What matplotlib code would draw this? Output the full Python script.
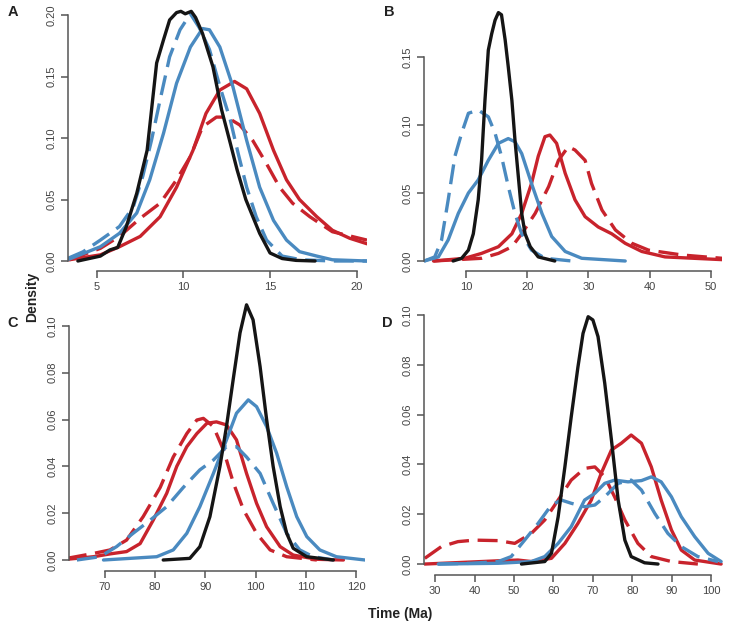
import matplotlib
matplotlib.use("Agg")
import matplotlib.pyplot as plt

plt.rcParams['font.family'] = ['Liberation Sans', 'DejaVu Sans']

RED = "#c8232c"
BLUE = "#4a8ac0"
BLACK = "#151515"

# ---- panel A ----
a_black_x = [3.9, 5.2, 5.75, 6.2, 6.7, 7.3, 7.9, 8.45, 8.85, 9.2, 9.6, 9.85, 10.1, 10.45, 10.7, 11.1, 11.7, 12.2, 12.7, 13.1, 13.6, 14.4, 15.0, 15.7, 16.5, 17.6]
a_black_y = [0.0, 0.004, 0.009, 0.011, 0.028, 0.055, 0.090, 0.161, 0.180, 0.196, 0.202, 0.203, 0.201, 0.203, 0.198, 0.185, 0.158, 0.123, 0.096, 0.074, 0.050, 0.0225, 0.0065, 0.002, 0.0005, 0.0]
a_bdash_x = [3.3, 4.2, 5.2, 6.3, 7.1, 7.65, 8.15, 8.65, 9.2, 9.8, 10.4, 10.9, 11.5, 12.1, 12.7, 13.15, 13.65, 14.2, 14.8, 15.7, 16.8, 18.6, 20.6]
a_bdash_y = [0.002, 0.0075, 0.017, 0.028, 0.044, 0.069, 0.098, 0.131, 0.166, 0.188, 0.201, 0.190, 0.172, 0.142, 0.115, 0.088, 0.060, 0.036, 0.017, 0.004, 0.001, 0.0, 0.0]
a_bsol_x = [3.3, 5.2, 6.3, 7.3, 8.05, 8.85, 9.6, 10.4, 11.1, 11.5, 12.1, 12.85, 13.65, 14.4, 15.2, 15.95, 16.7, 17.7, 18.6, 20.6]
a_bsol_y = [0.001, 0.0116, 0.0225, 0.039, 0.066, 0.104, 0.1445, 0.174, 0.189, 0.188, 0.174, 0.142, 0.098, 0.060, 0.033, 0.017, 0.0076, 0.004, 0.001, 0.0]
a_rsol_x = [3.4, 5.2, 6.3, 7.5, 8.65, 9.6, 10.55, 11.3, 12.1, 12.95, 13.65, 14.4, 15.2, 15.95, 16.7, 17.7, 18.6, 19.6, 20.6]
a_rsol_y = [0.001, 0.005, 0.0116, 0.020, 0.036, 0.060, 0.090, 0.120, 0.139, 0.146, 0.140, 0.120, 0.090, 0.066, 0.050, 0.036, 0.025, 0.0185, 0.014]
a_rdash_x = [3.4, 5.2, 6.3, 7.5, 8.65, 9.6, 10.4, 11.1, 11.9, 12.5, 13.25, 14.0, 14.8, 15.55, 16.3, 17.3, 18.6, 20.6]
a_rdash_y = [0.001, 0.0103, 0.020, 0.0347, 0.047, 0.066, 0.085, 0.109, 0.117, 0.117, 0.1106, 0.098, 0.079, 0.060, 0.047, 0.036, 0.0238, 0.017]

# ---- panel B ----
b_black_x = [7.9, 9.3, 10.4, 11.2, 12.0, 12.55, 13.1, 13.65, 14.2, 14.75, 15.3, 15.8, 16.4, 16.9, 17.5, 18.0, 18.6, 19.1, 19.65, 20.5, 21.8, 24.5]
b_black_y = [0.0, 0.002, 0.008, 0.020, 0.045, 0.074, 0.118, 0.155, 0.167, 0.177, 0.1826, 0.181, 0.1625, 0.143, 0.118, 0.089, 0.0596, 0.035, 0.020, 0.0105, 0.003, 0.0]
b_bdash_x = [3.2, 4.9, 6.0, 7.1, 8.2, 9.3, 10.4, 12.0, 13.65, 14.75, 15.8, 16.9, 18.0, 19.1, 20.7, 22.9, 27.3]
b_bdash_y = [0.0, 0.003, 0.015, 0.045, 0.077, 0.094, 0.1086, 0.111, 0.106, 0.094, 0.077, 0.055, 0.035, 0.020, 0.008, 0.002, 0.0]
b_bsol_x = [3.2, 5.5, 7.1, 8.75, 10.4, 12.0, 13.65, 15.3, 16.9, 18.0, 19.1, 20.7, 22.4, 24.0, 26.2, 28.9, 36.0]
b_bsol_y = [0.0, 0.003, 0.0155, 0.035, 0.050, 0.0596, 0.074, 0.0865, 0.090, 0.0877, 0.079, 0.057, 0.035, 0.018, 0.007, 0.002, 0.0]
b_rsol_x = [4.7, 9.8, 12.55, 15.3, 17.5, 19.1, 20.7, 21.8, 22.9, 23.7, 24.8, 26.2, 27.8, 29.45, 31.6, 33.8, 36.0, 38.7, 42.5, 51.8]
b_rsol_y = [0.0, 0.002, 0.0056, 0.0105, 0.020, 0.035, 0.057, 0.077, 0.0914, 0.0926, 0.0865, 0.0645, 0.045, 0.0326, 0.025, 0.020, 0.013, 0.007, 0.003, 0.001]
b_rdash_x = [4.7, 12.55, 15.3, 17.5, 19.1, 21.3, 23.5, 25.1, 26.7, 27.8, 29.45, 30.5, 32.2, 34.4, 37.1, 39.8, 45.3, 51.8]
b_rdash_y = [0.0, 0.002, 0.0056, 0.0105, 0.020, 0.035, 0.0547, 0.074, 0.084, 0.0816, 0.074, 0.057, 0.0375, 0.0228, 0.013, 0.008, 0.0044, 0.002]

# ---- panel C ----
c_black_x = [81.6, 86.9, 88.9, 90.9, 92.9, 94.2, 95.6, 96.9, 98.2, 99.5, 100.9, 102.2, 103.5, 104.9, 106.2, 107.5, 110.2, 115.5]
c_black_y = [0.0, 0.0007, 0.0057, 0.0185, 0.040, 0.057, 0.078, 0.097, 0.109, 0.1026, 0.0826, 0.060, 0.040, 0.0228, 0.0114, 0.005, 0.0014, 0.0]
c_bsol_x = [69.7, 80.3, 83.6, 86.3, 88.9, 91.6, 94.2, 96.2, 98.55, 100.2, 102.2, 104.2, 106.2, 108.2, 110.2, 112.8, 116.1, 121.8]
c_bsol_y = [0.0, 0.0014, 0.0043, 0.0114, 0.0228, 0.037, 0.0513, 0.0627, 0.0684, 0.0655, 0.057, 0.0456, 0.0313, 0.0185, 0.010, 0.0043, 0.0014, 0.0]
c_bdash_x = [64.4, 69.0, 72.3, 75.6, 79.0, 82.3, 85.6, 88.9, 91.6, 94.2, 96.2, 98.2, 100.9, 103.5, 106.2, 108.8, 111.5, 115.5]
c_bdash_y = [0.0, 0.0014, 0.0057, 0.0114, 0.017, 0.0228, 0.031, 0.0385, 0.0427, 0.0484, 0.0484, 0.044, 0.037, 0.0242, 0.0114, 0.0043, 0.0014, 0.0]
c_rsol_x = [62.4, 67.7, 71.0, 74.3, 77.0, 79.6, 82.3, 84.3, 86.3, 88.3, 90.3, 92.2, 94.2, 96.2, 98.2, 100.2, 102.2, 104.9, 107.5, 112.2, 117.5]
c_rsol_y = [0.0003, 0.0014, 0.0026, 0.0036, 0.007, 0.017, 0.0285, 0.040, 0.0484, 0.054, 0.0584, 0.059, 0.0577, 0.0513, 0.037, 0.0242, 0.0142, 0.0057, 0.0021, 0.0003, 0.0]
c_rdash_x = [62.4, 67.7, 71.0, 74.3, 77.6, 81.0, 83.6, 86.3, 88.3, 89.6, 91.6, 93.6, 95.6, 97.6, 100.2, 102.9, 106.2, 112.2]
c_rdash_y = [0.0007, 0.0028, 0.0043, 0.0085, 0.0185, 0.031, 0.044, 0.054, 0.0598, 0.0605, 0.057, 0.047, 0.0328, 0.0214, 0.0114, 0.0043, 0.0014, 0.0]

# ---- panel D ----
d_black_x = [51.9, 57.8, 59.5, 61.2, 62.9, 64.5, 66.2, 67.5, 68.8, 70.0, 71.3, 73.0, 74.7, 76.4, 78.1, 79.7, 83.1, 86.5]
d_black_y = [0.0, 0.001, 0.0043, 0.019, 0.039, 0.059, 0.079, 0.0926, 0.0993, 0.098, 0.0913, 0.0726, 0.0498, 0.0257, 0.0096, 0.003, 0.0005, 0.0]
d_rsol_x = [27.4, 37.5, 46.0, 51.0, 54.4, 59.5, 62.9, 66.2, 69.6, 72.1, 74.7, 77.2, 79.7, 82.3, 84.8, 87.3, 89.9, 92.4, 95.8, 102.5]
d_rsol_y = [0.0, 0.0007, 0.0013, 0.0016, 0.001, 0.0023, 0.0083, 0.0163, 0.0257, 0.0364, 0.0458, 0.0485, 0.0518, 0.0485, 0.039, 0.0257, 0.0137, 0.0056, 0.0016, 0.0]
d_rdash_x = [27.4, 31.6, 35.8, 40.0, 46.0, 50.2, 54.4, 57.8, 61.2, 64.5, 67.9, 70.5, 73.0, 75.5, 78.1, 81.4, 84.8, 89.9, 96.6]
d_rdash_y = [0.0023, 0.007, 0.009, 0.0096, 0.0094, 0.0083, 0.0123, 0.0177, 0.0257, 0.0337, 0.0384, 0.039, 0.035, 0.027, 0.0177, 0.0083, 0.003, 0.001, 0.0]
d_bsol_x = [30.8, 46.0, 54.4, 57.8, 61.2, 64.5, 67.9, 70.5, 73.0, 75.5, 78.9, 82.3, 84.8, 87.3, 89.9, 92.4, 95.8, 99.2, 102.5]
d_bsol_y = [0.0, 0.0003, 0.001, 0.003, 0.0083, 0.015, 0.0257, 0.0284, 0.0324, 0.0337, 0.033, 0.0335, 0.035, 0.033, 0.027, 0.019, 0.011, 0.0043, 0.001]
d_bdash_x = [30.8, 39.2, 46.0, 49.3, 52.7, 56.1, 59.5, 62.0, 64.5, 67.9, 70.5, 73.0, 76.4, 79.7, 82.3, 85.7, 89.0, 92.4, 96.6, 101.7]
d_bdash_y = [0.0, 0.0003, 0.001, 0.003, 0.0096, 0.0163, 0.0237, 0.0257, 0.0244, 0.023, 0.0237, 0.027, 0.0324, 0.0337, 0.0297, 0.0203, 0.0123, 0.007, 0.003, 0.001]

a_xticks = [5, 10, 15, 20]
a_yticks = [0.0, 0.05, 0.10, 0.15, 0.20]
b_xticks = [10, 20, 30, 40, 50]
b_yticks = [0.0, 0.05, 0.10, 0.15]
c_xticks = [70, 80, 90, 100, 110, 120]
c_yticks = [0.0, 0.02, 0.04, 0.06, 0.08, 0.10]
d_xticks = [30, 40, 50, 60, 70, 80, 90, 100]
d_yticks = [0.0, 0.02, 0.04, 0.06, 0.08, 0.10]

W, H = 729, 628
fig = plt.figure(figsize=(W / 100, H / 100), dpi=100)


def make_ax(left, right, top, bottom):
    return fig.add_axes([left / W, 1 - bottom / H, (right - left) / W, (bottom - top) / H])


def draw(ax, curves, xlim, ylim, xticks, yticks):
    for x, y, col, dashed in curves:
        ls = (0, (6, 2.6)) if dashed else "-"
        ax.plot(x, y, color=col, lw=2.4, linestyle=ls, solid_capstyle="round",
                dash_capstyle="butt", solid_joinstyle="round")
    ax.set_xlim(*xlim)
    ax.set_ylim(*ylim)
    ax.set_xticks(xticks)
    ax.set_yticks(yticks)
    ax.set_yticklabels(["%.2f" % v for v in yticks])
    for s in ["top", "right"]:
        ax.spines[s].set_visible(False)
    for s in ["left", "bottom"]:
        ax.spines[s].set_color("#555555")
        ax.spines[s].set_linewidth(1.1)
    ax.spines["bottom"].set_bounds(xticks[0], xticks[-1])
    ax.spines["left"].set_bounds(yticks[0], yticks[-1])
    ax.tick_params(length=5, width=1.1, color="#555555", labelsize=8,
                   labelcolor="#444444", pad=3)
    for lab in ax.get_yticklabels():
        lab.set_rotation(90)
        lab.set_va("center")
    ax.patch.set_alpha(0)


axA = make_ax(68, 367, 2, 271)
draw(axA, [(a_rdash_x, a_rdash_y, RED, True), (a_rsol_x, a_rsol_y, RED, False),
           (a_bdash_x, a_bdash_y, BLUE, True), (a_bsol_x, a_bsol_y, BLUE, False),
           (a_black_x, a_black_y, BLACK, False)],
     (3.33, 20.6), (-0.00813, 0.2106), a_xticks, a_yticks)

axB = make_ax(424, 722, 2, 271)
draw(axB, [(b_rdash_x, b_rdash_y, RED, True), (b_rsol_x, b_rsol_y, RED, False),
           (b_bdash_x, b_bdash_y, BLUE, True), (b_bsol_x, b_bsol_y, BLUE, False),
           (b_black_x, b_black_y, BLACK, False)],
     (3.15, 51.8), (-0.00735, 0.1904), b_xticks, b_yticks)

axC = make_ax(69, 365, 295, 571)
draw(axC, [(c_rdash_x, c_rdash_y, RED, True), (c_rsol_x, c_rsol_y, RED, False),
           (c_bdash_x, c_bdash_y, BLUE, True), (c_bsol_x, c_bsol_y, BLUE, False),
           (c_black_x, c_black_y, BLACK, False)],
     (62.83, 121.8), (-0.0047, 0.1132), c_xticks, c_yticks)

axD = make_ax(424, 723, 307, 575)
draw(axD, [(d_rdash_x, d_rdash_y, RED, True), (d_rsol_x, d_rsol_y, RED, False),
           (d_bdash_x, d_bdash_y, BLUE, True), (d_bsol_x, d_bsol_y, BLUE, False),
           (d_black_x, d_black_y, BLACK, False)],
     (27.2, 102.97), (-0.0044, 0.1032), d_xticks, d_yticks)

# panel letters and shared labels
for letter, px, py in [("A", 12.5, 12), ("B", 389, 12), ("C", 12.5, 323), ("D", 387, 323)]:
    fig.text(px / W, 1 - py / H, letter, fontsize=10.5, fontweight="bold",
             ha="center", va="center", color="#222222")
fig.text(32.5 / W, 1 - 297 / H, "Density", rotation=90, fontsize=10, fontweight="bold",
         ha="center", va="center", color="#222222")
fig.text(400 / W, 1 - 614 / H, "Time (Ma)", fontsize=10, fontweight="bold",
         ha="center", va="center", color="#222222")

fig.savefig("out.png", dpi=100)
